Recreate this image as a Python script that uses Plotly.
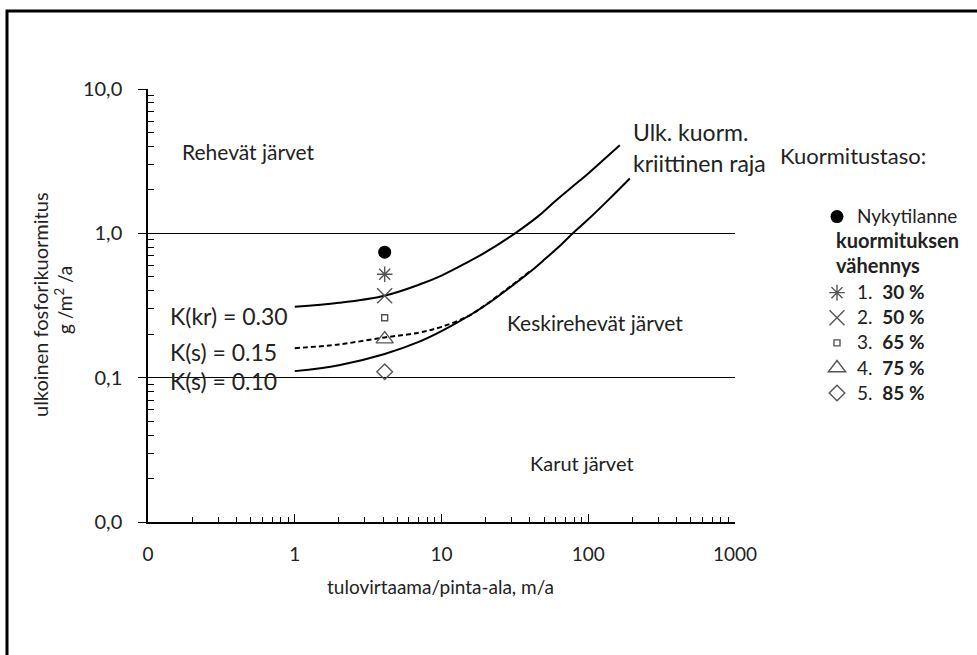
import plotly.graph_objects as go

W, H = 977, 655
FONT = "Lato"

# Critical loading curves: inflow per area (m/a) vs external P load (g/m2/a)
upper_x = [1, 2, 4.1, 7, 10, 15, 20, 32.6, 45, 60, 80, 100, 130, 164]
upper_y = [0.31, 0.33, 0.37, 0.44, 0.51, 0.63, 0.74, 1.02, 1.3, 1.68, 2.15, 2.6, 3.3, 4.07]

mid_x = [1, 2, 4.1, 7, 10, 15, 20, 30, 40]
mid_y = [0.16, 0.17, 0.19, 0.205, 0.225, 0.265, 0.32, 0.435, 0.545]

lower_x = [1, 2, 4.1, 7, 10, 16, 22, 30, 40, 50, 65, 78.5, 100, 140, 192]
lower_y = [0.111, 0.122, 0.146, 0.177, 0.21, 0.275, 0.34, 0.43, 0.54, 0.655, 0.83, 1.0, 1.25, 1.74, 2.4]

# Lake loading: present state and reduction scenarios
lake_q = 4.1
present_load = 0.74
scenario_labels = ["1.", "2.", "3.", "4.", "5."]
scenario_pcts = ["30 %", "50 %", "65 %", "75 %", "85 %"]
scenario_loads = [0.52, 0.37, 0.26, 0.185, 0.11]
scenario_symbols = ["asterisk-open", "x-thin-open", "square-open",
                    "triangle-up-open", "diamond-open"]
scenario_sizes = [13, 15, 6, 15, 12]

x_tickvals = [0.1, 1, 10, 100, 1000]
x_ticktext = ["0", "1", "10", "100", "1000"]
y_tickvals = [0.01, 0.1, 1, 10]
y_ticktext = ["0,0", "0,1", "1,0", "10,0"]


def px(x):
    return x / W


def py(y):
    return 1 - y / H


def big(s):
    return '<span style="font-size:19px">' + s + '</span>'


fig = go.Figure()

line_style = dict(color="black", width=2, shape="spline", smoothing=1.0)
fig.add_trace(go.Scatter(x=upper_x, y=upper_y, mode="lines", line=line_style,
                         showlegend=False, hoverinfo="skip"))
fig.add_trace(go.Scatter(x=mid_x, y=mid_y, mode="lines",
                         line=dict(line_style, dash="5px,3px"),
                         showlegend=False, hoverinfo="skip"))
fig.add_trace(go.Scatter(x=lower_x, y=lower_y, mode="lines", line=line_style,
                         showlegend=False, hoverinfo="skip"))

fig.add_trace(go.Scatter(
    x=[lake_q], y=[present_load], mode="markers", name=big("Nykytilanne"),
    legendgroup="now",
    marker=dict(symbol="circle", size=13, color="black")))

for lab, pct, load, sym, size in zip(scenario_labels, scenario_pcts, scenario_loads,
                                     scenario_symbols, scenario_sizes):
    fig.add_trace(go.Scatter(
        x=[lake_q], y=[load], mode="markers",
        name=big(f"{lab}  <b>{pct}</b>"),
        legendgroup="red",
        marker=dict(symbol=sym, size=size, color="#555",
                    line=dict(color="#555", width=1.4))))

minor_x = [m * 10 ** e for e in range(-1, 3) for m in range(2, 10)]
minor_y = [m * 10 ** e for e in range(-2, 1) for m in range(2, 10)]

fig.update_xaxes(
    type="log", range=[-1, 3], domain=[148 / W, 735 / W],
    tickvals=x_tickvals, ticktext=x_ticktext,
    ticks="inside", ticklen=8, tickwidth=1.2, tickcolor="black",
    ticklabelstandoff=14,
    showline=True, linecolor="black", linewidth=1.5,
    showgrid=False, zeroline=False, automargin=False,
    tickfont=dict(family=FONT, size=19, color="#222"),
    minor=dict(tickvals=minor_x, ticks="inside", ticklen=5,
               tickcolor="black", tickwidth=1, showgrid=False),
)
fig.update_yaxes(
    type="log", range=[-2, 1], domain=[1 - 522 / H, 1 - 89 / H],
    tickvals=y_tickvals, ticktext=y_ticktext,
    ticks="outside", ticklen=8, tickwidth=1.2, tickcolor="black",
    ticklabelstandoff=12,
    showline=True, linecolor="black", linewidth=1.5,
    showgrid=True, gridcolor="black", gridwidth=1.2, zeroline=False,
    automargin=False,
    tickfont=dict(family=FONT, size=20, color="#222"),
    minor=dict(tickvals=minor_y, ticks="inside", ticklen=6,
               tickcolor="black", tickwidth=1, showgrid=False),
)

annotations = [
    dict(text="Rehevät järvet", x=180, y=152, xanchor="left", size=21),
    dict(text="Ulk. kuorm.", x=631, y=132, xanchor="left", size=23),
    dict(text="kriittinen raja", x=631, y=163, xanchor="left", size=23),
    dict(text="Kuormitustaso:", x=778, y=155, xanchor="left", size=22),
    dict(text="K(kr) = 0.30", x=168, y=316, xanchor="left", size=23),
    dict(text="K(s) = 0.15", x=168, y=352, xanchor="left", size=23),
    dict(text="K(s) = 0.10", x=168, y=381, xanchor="left", size=23),
    dict(text="Keskirehevät järvet", x=505, y=322, xanchor="left", size=21),
    dict(text="Karut järvet", x=528, y=463, xanchor="left", size=20),
    dict(text="tulovirtaama/pinta-ala, m/a", x=440, y=586, xanchor="center", size=19),
    dict(text="<b>kuormituksen</b>", x=834, y=240, xanchor="left", size=20),
    dict(text="<b>vähennys</b>", x=834, y=265, xanchor="left", size=20),
]
for a in annotations:
    fig.add_annotation(text=a["text"], x=px(a["x"]), y=py(a["y"]),
                       xref="paper", yref="paper",
                       xanchor=a["xanchor"], yanchor="middle", showarrow=False,
                       font=dict(family=FONT, size=a["size"], color="#222"))

fig.add_annotation(text="ulkoinen fosforikuormitus", x=px(40), y=py(305),
                   xref="paper", yref="paper", textangle=-90, showarrow=False,
                   xanchor="center", yanchor="middle",
                   font=dict(family=FONT, size=20, color="#222"))
fig.add_annotation(text="g /m<sup>2</sup> /a", x=px(63), y=py(300),
                   xref="paper", yref="paper", textangle=-90, showarrow=False,
                   xanchor="center", yanchor="middle",
                   font=dict(family=FONT, size=19, color="#222"))

# Outer frame
fig.add_shape(type="rect", xref="paper", yref="paper",
              x0=px(7), y0=py(11), x1=1.05, y1=-0.05,
              line=dict(color="black", width=3), layer="above")

fig.update_layout(
    width=W, height=H,
    margin=dict(l=0, r=0, t=0, b=0, autoexpand=False),
    paper_bgcolor="white", plot_bgcolor="white",
    showlegend=True,
    legend=dict(x=px(817), y=py(199), xanchor="left", yanchor="top",
                bgcolor="rgba(0,0,0,0)", tracegroupgap=51,
                font=dict(family=FONT, size=17, color="#222"),
                itemsizing="trace", itemwidth=30),
)

fig.write_html("out.html")
